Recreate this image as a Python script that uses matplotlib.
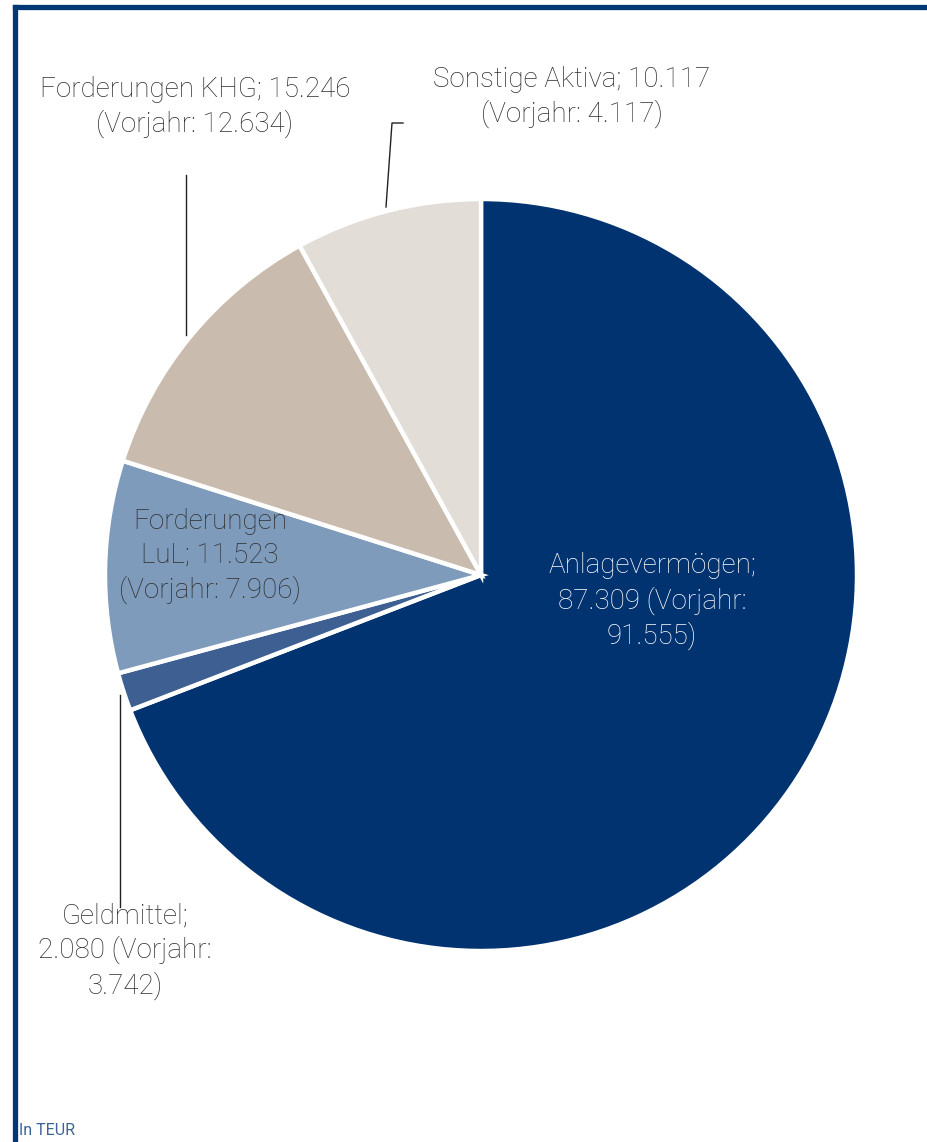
import matplotlib.pyplot as plt

# Daten (in TEUR)
labels = ["Anlagevermögen", "Geldmittel", "Forderungen LuL", "Forderungen KHG", "Sonstige Aktiva"]
werte = [87.309, 2.080, 11.523, 15.246, 10.117]
vorjahr = ["91.555", "3.742", "7.906", "12.634", "4.117"]
farben = ["#00336f", "#3d5f91", "#7f9bbb", "#c9bbad", "#e3ddd7"]

W, H = 928, 1142
plt.rcParams['font.family'] = ['Roboto', 'DejaVu Sans']

fig = plt.figure(figsize=(W / 100, H / 100), dpi=100)
ax = fig.add_axes([0, 0, 1, 1])


def Y(y):
    # Pixelkoordinate von oben -> Datenkoordinate
    return H - y


ax.pie(werte, colors=farben, startangle=90, counterclock=False,
       center=(481, Y(575)), radius=376, frame=True,
       wedgeprops=dict(edgecolor='white', linewidth=3.2))
ax.set_xlim(0, W)
ax.set_ylim(0, H)
ax.set_aspect('equal')
ax.axis('off')

txt = dict(fontsize=20, fontweight='light', color='#2e2e2e',
           ha='center', va='center', linespacing=1.3)

# Beschriftungen
ax.text(652, Y(601), "Anlagevermögen;\n87.309 (Vorjahr:\n91.555)",
        **{**txt, 'color': 'white'})
ax.text(210, Y(556), "Forderungen\nLuL; 11.523\n(Vorjahr: 7.906)", **txt)
ax.text(195, Y(107), "Forderungen KHG; 15.246\n(Vorjahr: 12.634)", **txt)
ax.text(572, Y(97), "Sonstige Aktiva; 10.117\n(Vorjahr: 4.117)", **txt)
ax.text(125, Y(951), "Geldmittel;\n2.080 (Vorjahr:\n3.742)", **txt)

# Verbindungslinien
lc = dict(color='#222222', linewidth=1.0)
ax.plot([186, 186], [Y(175), Y(335)], **lc)
ax.plot([386, 392, 403], [Y(207), Y(123), Y(123)], **lc)
ax.plot([120, 120], [Y(695), Y(907)], **lc)

# Rahmen
fc = '#003876'
ax.plot([15.5, 15.5], [Y(7), 0], color=fc, linewidth=3.8, solid_capstyle='projecting')
ax.plot([15.5, W], [Y(7), Y(7)], color=fc, linewidth=3.8, solid_capstyle='projecting')

ax.text(19, Y(1131), "In TEUR", fontsize=11.5, color='#3d6499',
        ha='left', va='center')

fig.savefig("out.png", dpi=100)
